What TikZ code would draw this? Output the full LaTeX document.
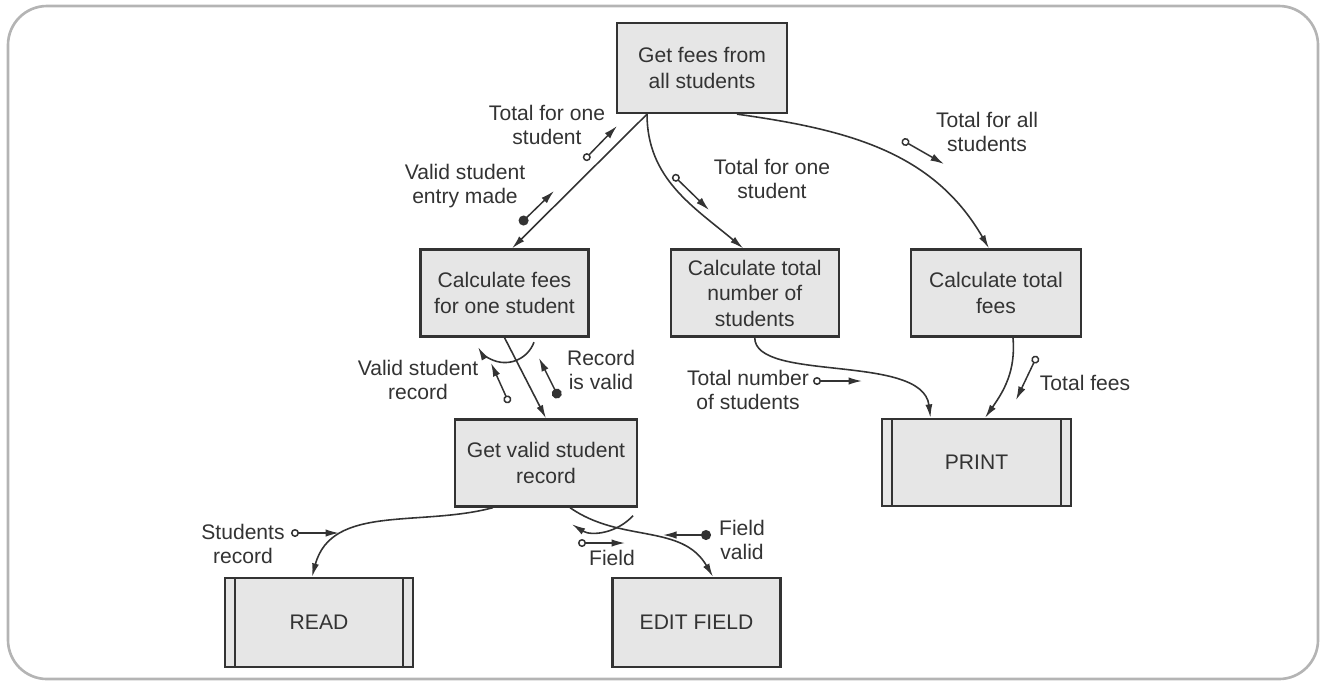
\documentclass[tikz,border=0pt]{standalone}
\usepackage{fontspec}
\setmainfont{Liberation Sans}
\usetikzlibrary{arrows.meta,positioning}
\definecolor{ink}{HTML}{333333}
\definecolor{boxfill}{HTML}{E6E6E6}
\definecolor{rim}{HTML}{B4B4B4}

\begin{document}
\begin{tikzpicture}[x=0.02cm,y=0.02cm,text=ink,font=\fontsize{12}{14.5}\selectfont,module/.style={draw=ink,fill=boxfill,line width=1.3pt,minimum width=3.36cm,minimum height=1.74cm,align=center,inner sep=2pt},libmodule/.style={module,path picture={\draw[ink,line width=1.1pt] ([xshift=.2cm]path picture bounding box.north west)--([xshift=.2cm]path picture bounding box.south west) ([xshift=-.2cm]path picture bounding box.north east)--([xshift=-.2cm]path picture bounding box.south east);}},flow/.style={-{Latex[length=2.7mm,width=1.4mm]},draw=ink,line width=0.9pt},dataflag/.style={{Circle[open,length=1.6mm,width=1.6mm]}-{Latex[length=2.7mm,width=1.5mm]},draw=ink,line width=0.85pt},ctrlflag/.style={{Circle[length=2mm]}-{Latex[length=2.7mm,width=1.5mm]},draw=ink,line width=0.85pt},note/.style={align=center,font=\fontsize{12}{13.6}\selectfont}]
 \useasboundingbox (0,0) rectangle (1324,-681);
 \draw[rim,line width=1.5pt,rounded corners=0.78cm] (8,-6) rectangle (1318,-679);
 \node[module,minimum width=3.4cm,minimum height=1.8cm] (getfees) at (702,-68) {Get fees from\\all students};
 \node[module] (calcfees) at (504.5,-293) {Calculate fees\\for one student};
 \node[module,right=1.6cm of calcfees] (calctotal) {Calculate total\\number of\\students};
 \node[module,minimum width=3.4cm,right=1.4cm of calctotal] (calcsum) {Calculate total\\fees};
 \node[module,minimum width=3.64cm] (getvalid) at (546,-463) {Get valid student\\record};
 \node[libmodule,minimum width=3.78cm] (print) at (976.5,-462.5) {PRINT};
 \node[libmodule,minimum width=3.76cm,minimum height=1.78cm] (read) at (319,-622.5) {READ};
 \node[module,minimum height=1.78cm] (edit) at (696.5,-622.5) {EDIT FIELD};
 \draw[flow] ([xshift=-1.1cm]getfees.south)--([xshift=.15cm]calcfees.north);
 \draw[flow] ([xshift=-1.1cm]getfees.south) to[out=-90,in=140] ([xshift=-.23cm]calctotal.north);
 \draw[flow] ([xshift=.7cm]getfees.south) to[out=-8,in=120] ([xshift=-.14cm]calcsum.north);
 \draw[flow] (calcfees.south)--(getvalid.north);
 \draw[flow] ([shift={(.59cm,-.09cm)}]calcfees.south) arc[start angle=-20,end angle=-150,radius=.62cm];
 \draw[flow] (calctotal.south) .. controls +(0,-45) and +(-8,65) .. ([xshift=-.92cm]print.north);
 \draw[flow] ([xshift=.34cm]calcsum.south) to[out=-85,in=55] ([xshift=.17cm]print.north);
 \draw[flow] ([xshift=-1.06cm]getvalid.south) to[out=195,in=75] ([xshift=-.14cm]read.north);
 \draw[flow] ([xshift=.48cm]getvalid.south) to[out=-35,in=120] ([xshift=.33cm]edit.north);
 \draw[flow] ([shift={(1.74cm,-.16cm)}]getvalid.south) arc[start angle=-42,end angle=-122,radius=.96cm];
 \node[note] (onetotal) at (547,-125) {Total for one\\student};
 \coordinate (onetotal0) at (584,-160);
 \coordinate (onetotal1) at (617,-126);
 \draw[dataflag] (onetotal0)--(onetotal1);
 \node[note] (entrymade) at (465,-186) {Valid student\\entry made};
 \coordinate (entrymade0) at (520,-224);
 \coordinate (entrymade1) at (554,-191);
 \draw[ctrlflag] (entrymade0)--(entrymade1);
 \node[note] (onetotalb) at (772,-179) {Total for one\\student};
 \coordinate (onetotalb0) at (673,-175);
 \coordinate (onetotalb1) at (709,-210);
 \draw[dataflag] (onetotalb0)--(onetotalb1);
 \node[note] (alltotal) at (987,-132) {Total for all\\students};
 \coordinate (alltotal0) at (902,-140);
 \coordinate (alltotal1) at (944,-164);
 \draw[dataflag] (alltotal0)--(alltotal1);
 \node[note] (validrec) at (418,-380) {Valid student\\record};
 \coordinate (validrec0) at (509,-403);
 \coordinate (validrec1) at (491,-363);
 \draw[dataflag] (validrec0)--(validrec1);
 \node[note] (recvalid) at (601,-370) {Record\\is valid};
 \coordinate (recvalid0) at (559,-398);
 \coordinate (recvalid1) at (539,-358);
 \draw[ctrlflag] (recvalid0)--(recvalid1);
 \node[note] (numtotal) at (748,-390) {Total number\\of students};
 \coordinate (numtotal0) at (813,-381);
 \coordinate (numtotal1) at (862,-381);
 \draw[dataflag] (numtotal0)--(numtotal1);
 \node[note] (feestotal) at (1085,-383) {Total fees};
 \coordinate (feestotal0) at (1037,-356);
 \coordinate (feestotal1) at (1016,-400);
 \draw[dataflag] (feestotal0)--(feestotal1);
 \node[note] (studrec) at (243,-544) {Students\\record};
 \coordinate (studrec0) at (291,-533);
 \coordinate (studrec1) at (339,-533);
 \draw[dataflag] (studrec0)--(studrec1);
 \node[note] (field) at (612,-558) {Field};
 \coordinate (field0) at (578,-543);
 \coordinate (field1) at (625,-543);
 \draw[dataflag] (field0)--(field1);
 \node[note] (fieldok) at (742,-540) {Field\\valid};
 \coordinate (fieldok0) at (711,-535);
 \coordinate (fieldok1) at (663,-535);
 \draw[ctrlflag] (fieldok0)--(fieldok1);
\end{tikzpicture}
\end{document}
